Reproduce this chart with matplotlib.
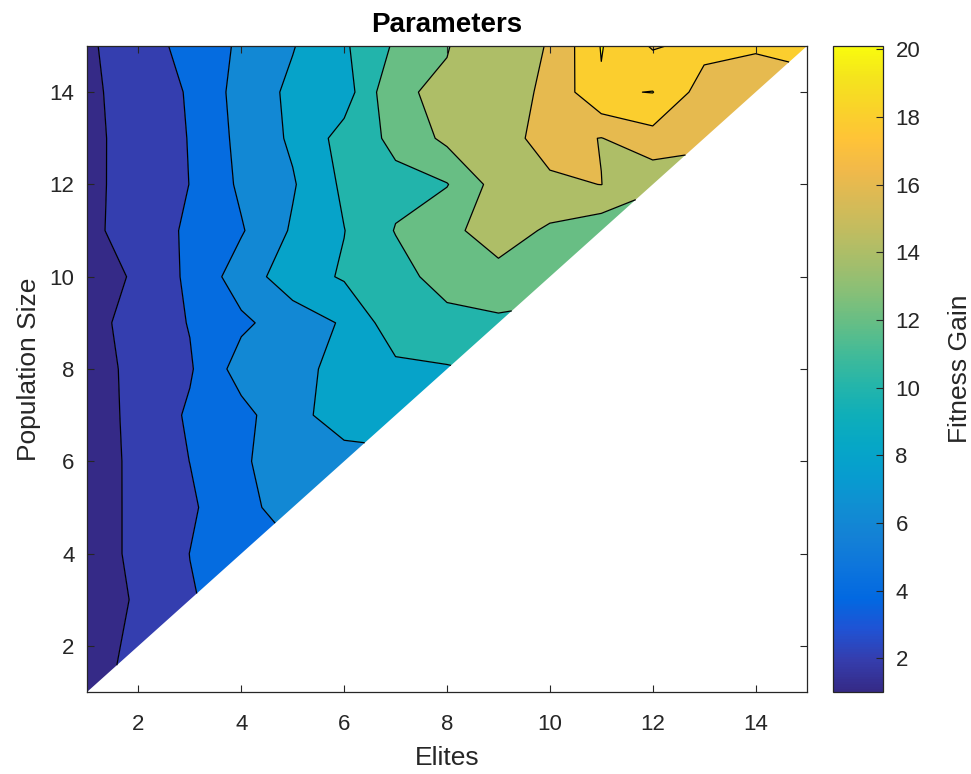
import numpy as np
import matplotlib
matplotlib.use('Agg')
import matplotlib.pyplot as plt
from matplotlib.colors import LinearSegmentedColormap, Normalize
from matplotlib.cm import ScalarMappable

plt.rcParams['font.family'] = ['Liberation Sans', 'DejaVu Sans']

elites = np.arange(1, 16)
pop_size = np.arange(1, 16)

# fitness gain, one row per population size (only elites <= population size)
gain_rows = [
    [1.31],
    [1.07, 2.50],
    [1.32, 2.15, 3.87],
    [1.36, 2.30, 4.02, 4.84],
    [1.36, 2.30, 3.67, 5.60, 6.60],
    [1.05, 2.45, 4.02, 5.75, 7.00, 7.33],
    [1.24, 2.43, 4.30, 5.37, 7.47, 8.80, 9.00],
    [1.30, 2.45, 3.79, 6.86, 7.20, 8.80, 9.56, 9.86],
    [1.38, 2.67, 4.10, 5.63, 7.00, 8.20, 11.20, 11.29, 11.65],
    [1.00, 2.30, 4.40, 6.98, 9.06, 10.21, 11.20, 12.90, 13.30, 13.00],
    [1.46, 3.00, 4.28, 5.83, 8.24, 9.96, 12.09, 13.43, 15.05, 13.67, 12.80],
    [1.39, 3.00, 4.02, 6.35, 7.82, 10.38, 11.50, 11.91, 14.85, 15.73, 16.02, 14.59],
    [1.26, 3.20, 4.05, 6.58, 8.30, 10.76, 12.46, 14.46, 15.35, 16.60, 15.95, 17.25, 16.80],
    [1.37, 3.33, 4.10, 6.81, 8.40, 9.00, 13.76, 14.30, 15.33, 16.30, 19.80, 20.05, 17.14, 16.50],
    [1.50, 3.80, 4.14, 6.44, 7.90, 9.72, 12.28, 13.90, 15.60, 16.05, 20.10, 17.80, 18.60, 18.30, 18.80],
]

contour_levels = np.arange(2, 21, 2)
axis_ticks = np.arange(2, 15, 2)

# parula (sampled every third entry of the 64-colour table)
parula_rgb = [
    (0.2081, 0.1663, 0.5292), (0.2081, 0.2386, 0.6771), (0.1253, 0.3242, 0.8303),
    (0.0060, 0.4086, 0.8828), (0.0498, 0.4586, 0.8641), (0.0779, 0.5040, 0.8384),
    (0.0641, 0.5570, 0.8240), (0.0265, 0.6137, 0.8135), (0.0228, 0.6535, 0.7768),
    (0.0590, 0.6838, 0.7254), (0.1453, 0.7098, 0.6646), (0.2586, 0.7317, 0.5954),
    (0.3953, 0.7459, 0.5244), (0.5300, 0.7491, 0.4661), (0.6473, 0.7456, 0.4188),
    (0.7525, 0.7384, 0.3768), (0.8507, 0.7299, 0.3360), (0.9450, 0.7261, 0.2886),
    (0.9990, 0.7653, 0.2164), (0.9789, 0.8271, 0.1633), (0.9589, 0.8949, 0.1132),
    (0.9763, 0.9831, 0.0538),
]
parula = LinearSegmentedColormap.from_list('parula', parula_rgb, N=256)

Z = np.full((len(pop_size), len(elites)), np.nan)
for i, row in enumerate(gain_rows):
    Z[i, :len(row)] = row
Z = np.ma.masked_invalid(Z)
E, P = np.meshgrid(elites, pop_size)

zmin, zmax = Z.min(), Z.max()
norm = Normalize(vmin=zmin, vmax=zmax)
fill_levels = np.concatenate([[zmin - 0.01], contour_levels, [zmax + 0.01]])
# each band takes the colour of its lower level
band_colors = [parula(norm(v)) for v in np.concatenate([[zmin], contour_levels])]

grey = (0.15, 0.15, 0.15)
fig = plt.figure(figsize=(9.71, 7.74), dpi=100)
ax = fig.add_axes([87 / 971, 1 - 692 / 774, 720 / 971, 646 / 774])
cax = fig.add_axes([833 / 971, 1 - 692 / 774, 50 / 971, 646 / 774])

ax.contourf(E, P, Z, levels=fill_levels, colors=band_colors, corner_mask=True, antialiased=True)
ax.contour(E, P, Z, levels=contour_levels, colors='k', linewidths=0.9, corner_mask=True)

ax.set_xlim(1, 15)
ax.set_ylim(1, 15)
ax.set_xticks(axis_ticks)
ax.set_yticks(axis_ticks)
ax.tick_params(direction='in', top=True, right=True, length=5, width=0.8,
               labelsize=16, colors=grey, pad=9)
ax.tick_params(axis='x', pad=16)
for s in ax.spines.values():
    s.set_color(grey)
    s.set_linewidth(0.9)
ax.set_title('Parameters', fontsize=20, fontweight='bold', pad=10)
ax.set_xlabel('Elites', fontsize=19, color=grey, labelpad=8)
ax.set_ylabel('Population Size', fontsize=19, color=grey, labelpad=6)

cb = fig.colorbar(ScalarMappable(norm=norm, cmap=parula), cax=cax)
cb.set_ticks(contour_levels)
cb.outline.set_edgecolor(grey)
cb.outline.set_linewidth(0.9)
cax.tick_params(direction='in', length=5, width=0.8, labelsize=16, colors=grey, pad=9)
cb.set_label('Fitness Gain', fontsize=19, color=grey, labelpad=20)

fig.savefig('out.png', dpi=100)
